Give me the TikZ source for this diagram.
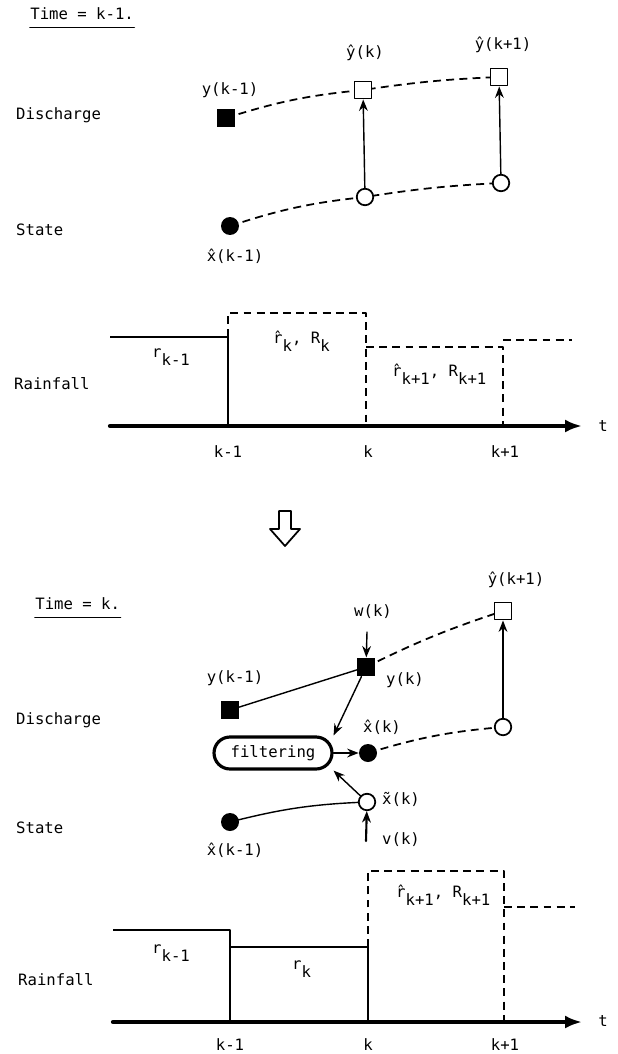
\documentclass[tikz,border=0pt]{standalone}
\usepackage{fontspec}
\setmainfont{DejaVu Sans Mono}
\usetikzlibrary{arrows.meta, backgrounds}

% lowered subscript as the typewriter labels show it
\newcommand{\lowsub}[1]{\raisebox{-0.55em}{#1}}

\begin{document}
\begin{tikzpicture}[x=0.02cm, y=-0.02cm, line join=round, line cap=round,
    font=\fontsize{8.9}{10}\selectfont,
    fsq/.style={rectangle, fill=black, inner sep=0pt, minimum size=0.37cm},
    hsq/.style={rectangle, draw, line width=1.1pt, fill=white, inner sep=0pt, minimum size=0.34cm},
    fdot/.style={circle, fill=black, inner sep=0pt, minimum size=0.36cm},
    hdot/.style={circle, draw, line width=1pt, fill=white, inner sep=0pt, minimum size=0.33cm},
    conn/.style={line width=0.8pt},
    dsh/.style={line width=1pt, dash pattern=on 4.5pt off 3pt},
    arr/.style={-{Stealth[length=6.5pt, width=5pt]}},
    axis/.style={line width=2.4pt, -{Latex[length=0.34cm, width=0.26cm]}},
    solidstep/.style={line width=1.6pt, line cap=butt},
    stepdash/.style={line width=1.1pt, dash pattern=on 4.5pt off 3pt, line cap=butt}]

    \useasboundingbox (0,0) rectangle (618,1054);

    % ---------------------------------------------------
    % Time = k-1
    % ---------------------------------------------------
    \node[anchor=west, inner sep=0pt] (tA) at (30,14) {Time = k-1.};
    \draw[line width=1pt] ([yshift=-4pt]tA.south west) -- ([yshift=-4pt]tA.south east);

    \node[anchor=west] (dA) at (10,115) {Discharge};
    \node[anchor=west] (sA) at (10,230) {State};
    \node[anchor=west] (rA) at (8,384) {Rainfall};

    % discharge and state points
    \node[fsq] (yA0) at (226,118) {};
    \node[hsq] (yA1) at (363,90) {};
    \node[hsq] (yA2) at (499,77) {};
    \node[fdot] (xA0) at (230,226) {};
    \node[hdot] (xA1) at (365,197) {};
    \node[hdot] (xA2) at (501,183) {};

    \node (lyA0) at (230,90) {y(k-1)};
    \node (lyA1) at (365,53) {\^{y}(k)};
    \node (lyA2) at (503,45) {\^{y}(k+1)};
    \node (lxA0) at (235,256) {\^{x}(k-1)};

    % dashed forecasts pass behind the marks
    \begin{scope}[on background layer]
        \draw[dsh] (yA0.center) to[bend left=6] (yA1.center) to[bend left=3] (yA2.center);
        \draw[dsh] (xA0.center) to[bend left=6] (xA1.center) to[bend left=3] (xA2.center);
    \end{scope}
    \draw[conn, arr] (xA1) -- (yA1);
    \draw[conn, arr] (xA2) -- (yA2);

    % rainfall steps
    \draw[solidstep] (110,337) -- (228,337) -- (228,426);
    \draw[stepdash] (228,337) -- (228,313) -- (366,313) -- (366,426);
    \draw[stepdash] (366,347) -- (503,347) -- (503,426);
    \draw[stepdash] (503,340) -- (572,340);
    \draw[axis] (110,426) -- (582,426);

    \node[anchor=base west] (rkA0) at (146,357) {r\lowsub{k-1}};
    \node[anchor=base west] (rkA1) at (267,343) {\^{r}\lowsub{k}, R\lowsub{k}};
    \node[anchor=base west] (rkA2) at (386,376) {\^{r}\lowsub{k+1}, R\lowsub{k+1}};

    \node (kA0) at (228,452) {k-1};
    \node (kA1) at (368,452) {k};
    \node (kA2) at (505,452) {k+1};
    \node (tmA) at (603,426) {t};

    % ---------------------------------------------------
    % hollow arrow between the two time steps
    % ---------------------------------------------------
    \draw[line width=1pt] (279,511) -- (291,511) -- (291,529) -- (300,529)
        -- (285,546) -- (270,529) -- (279,529) -- cycle;

    % ---------------------------------------------------
    % Time = k
    % ---------------------------------------------------
    \node[anchor=west, inner sep=0pt] (tB) at (35,604) {Time = k.};
    \draw[line width=1pt] ([yshift=-4pt]tB.south west) -- ([yshift=-4pt]tB.south east);

    \node[anchor=west] (dB) at (10,720) {Discharge};
    \node[anchor=west] (sB) at (10,828) {State};
    \node[anchor=west] (rB) at (12,980) {Rainfall};

    \node[fsq] (yB0) at (230,710) {};
    \node[fsq] (yB1) at (366,667) {};
    \node[hsq] (yB2) at (503,611) {};
    \node[fdot] (xB0) at (230,822) {};
    \node[hdot] (xB1) at (367,802) {};
    \node[fdot] (xB2) at (368,753) {};
    \node[hdot] (xB3) at (503,727) {};
    \node[rectangle, draw, line width=1.8pt, rounded corners=0.32cm,
        minimum width=2.36cm, minimum height=0.64cm] (filt) at (273,753) {filtering};

    \node (lyB0) at (235,678) {y(k-1)};
    \node (lyB1) at (405,680) {y(k)};
    \node (lyB2) at (516,580) {\^{y}(k+1)};
    \node (lw) at (373,612) {w(k)};
    \node (lxB2) at (382,727) {\^{x}(k)};
    \node (lxB1) at (401,799) {\~{x}(k)};
    \node (lv) at (401,840) {v(k)};
    \node (lxB0) at (235,850) {\^{x}(k-1)};

    \coordinate (wtop) at (367,632);
    \coordinate (vbot) at (366,841);

    \begin{scope}[on background layer]
        \draw[conn] (yB0.center) -- (yB1.center);
        \draw[dsh] (yB1.center) to[bend left=4] (yB2.center);
        \draw[dsh] (xB2.center) to[bend left=6] (xB3.center);
        \draw[conn] (xB0.center) to[bend left=6] (xB1.center);
    \end{scope}
    \draw[conn, arr] (yB1) -- (filt.north east);
    \draw[conn, arr] (wtop) -- (yB1);
    \draw[line width=1.2pt, arr] (filt) -- (xB2);
    \draw[conn, arr] (xB3) -- (yB2);
    \draw[conn, arr] (xB1) -- (filt.south east);
    \draw[line width=1.2pt, arr] (vbot) -- (xB1);

    % rainfall steps
    \draw[solidstep] (113,930) -- (230,930) -- (230,1022);
    \draw[solidstep] (230,947) -- (368,947) -- (368,1022);
    \draw[stepdash] (368,947) -- (368,871) -- (504,871) -- (504,1022);
    \draw[stepdash] (504,907) -- (575,907);
    \draw[axis] (113,1022) -- (582,1022);

    \node[anchor=base west] (rkB0) at (146,953) {r\lowsub{k-1}};
    \node[anchor=base west] (rkB1) at (286,969) {r\lowsub{k}};
    \node[anchor=base west] (rkB2) at (390,897) {\^{r}\lowsub{k+1}, R\lowsub{k+1}};

    \node (kB0) at (230,1045) {k-1};
    \node (kB1) at (368,1045) {k};
    \node (kB2) at (505,1045) {k+1};
    \node (tmB) at (603,1021) {t};
\end{tikzpicture}
\end{document}
